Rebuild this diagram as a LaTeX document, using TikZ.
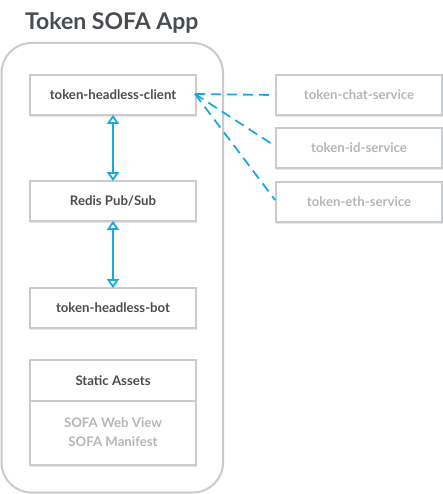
\documentclass[tikz,border=0pt]{standalone}
\usepackage{fontspec}
\setmainfont{Lato}
\usetikzlibrary{arrows.meta}
\definecolor{boxgray}{HTML}{C9CCCE}
\definecolor{shadowgray}{HTML}{E4E6E7}
\definecolor{txtdark}{HTML}{4A4D50}
\definecolor{txtlight}{HTML}{B4B7B9}
\definecolor{linkblue}{HTML}{1AA8E2}
\tikzset{
  box/.style={draw=boxgray, line width=1.8pt, fill=white, minimum width=166pt, minimum height=40pt, inner sep=0pt, font=\fontsize{13.2}{14}\selectfont\bfseries, text=txtdark},
  extbox/.style={box, text=txtlight},
  shadowbox/.style={fill=shadowgray, minimum width=167pt, minimum height=40pt, inner sep=0pt},
  link/.style={draw=linkblue, line width=1.8pt, {Triangle[open,width=12pt,length=9pt,fill=white]}-{Triangle[open,width=12pt,length=9pt,fill=white]}},
  dashlink/.style={draw=linkblue, line width=1.8pt, dash pattern=on 10pt off 6pt}
}
\begin{document}
\begin{tikzpicture}[x=1pt,y=-1pt]
\useasboundingbox (0,0) rectangle (443,494);
\fill[white] (0,0) rectangle (443,494);
\node[anchor=base west, font=\fontsize{23}{26}\selectfont\bfseries, text=txtdark, inner sep=0pt] (title) at (25,29.5) {Token SOFA App};
\draw[draw=boxgray, line width=2pt, rounded corners=30pt] (1.5,43) rectangle (223,492.5);
% shadows
\node[shadowbox] at (113.5,97) {};
\node[shadowbox] at (113.5,203) {};
\node[shadowbox] at (113.5,310) {};
\node[shadowbox, minimum height=105pt] at (113.5,414.5) {};
\node[shadowbox] at (359.5,97) {};
\node[shadowbox] at (359.5,150) {};
\node[shadowbox] at (359.5,204) {};
% boxes
\node[box] (client) at (113,95) {token-headless-client};
\node[box] (redis) at (113,201) {Redis Pub/Sub};
\node[box] (bot) at (113,308) {token-headless-bot};
\node[box, minimum height=105pt] (static) at (113,412.5) {};
\draw[draw=boxgray, line width=1.8pt] (static.west |- 0,401) coordinate (divl) -- (static.east |- 0,401) coordinate (divr);
\node[font=\fontsize{13.2}{14}\selectfont\bfseries, text=txtdark] (stitle) at (113,380.5) {Static Assets};
\node[font=\fontsize{13.2}{19}\selectfont\bfseries, text=txtlight, align=center] (slist) at (113,432) {SOFA Web View\\SOFA Manifest};
\node[extbox] (chat) at (359,95) {token-chat-service};
\node[extbox] (id) at (359,148) {token-id-service};
\node[extbox] (eth) at (359,202) {token-eth-service};
% connectors
\coordinate (hub) at (195,94);
\draw[dashlink] (hub) -- (chat.west);
\draw[dashlink] (hub) -- ([yshift=2pt]id.west);
\draw[dashlink] (hub) -- ([yshift=2pt]eth.west);
\draw[link] ([yshift=1pt]client.south) -- ([yshift=-1pt]redis.north);
\draw[link] ([yshift=1pt]redis.south) -- ([yshift=-1pt]bot.north);
\end{tikzpicture}
\end{document}
